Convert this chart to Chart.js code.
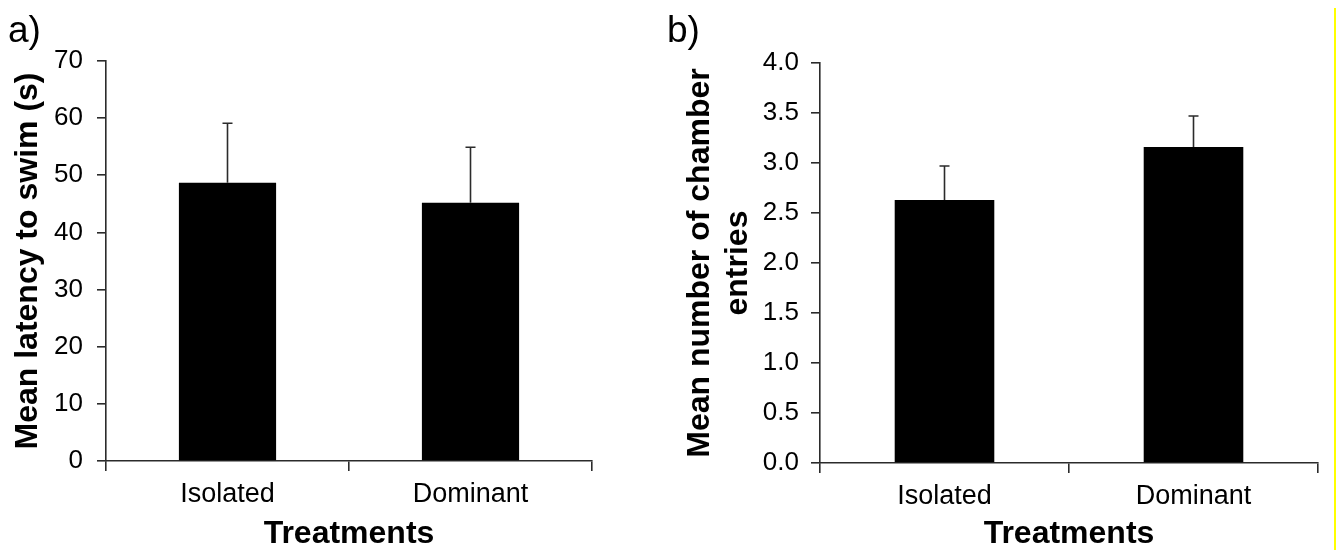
<!DOCTYPE html>
<html>
<head>
<meta charset="utf-8">
<script src="https://cdn.jsdelivr.net/npm/chart.js@4.4.0/dist/chart.umd.min.js"></script>
<style>
  body { margin: 0; background: #fff; width: 1339px; height: 550px; overflow: hidden; position: relative; font-family: "Liberation Sans", Arial, sans-serif; }
  .wrap { position: absolute; top: 0; height: 550px; }
  .panel-label { position: absolute; font-size: 37px; line-height: 1; color: #000; }
  #edge { position: absolute; left: 1334px; top: 8px; width: 2px; height: 542px; background: #ffff00; }
</style>
</head>
<body>
<div class="wrap" style="left:0;width:660px"><canvas id="chartA" width="660" height="550"></canvas></div>
<div class="wrap" style="left:660px;width:679px"><canvas id="chartB" width="679" height="550"></canvas></div>
<div class="panel-label" style="left:8px;top:11px">a)</div>
<div class="panel-label" style="left:667px;top:11px">b)</div>
<div id="edge"></div>
<script>
// data
const treatments = ['Isolated', 'Dominant'];
const latencyMeans = [48.7, 45.2];
const latencyErr = [10.4, 9.7];
const entryMeans = [2.63, 3.16];
const entryErr = [0.34, 0.31];

const FONT = '"Liberation Sans", Arial, sans-serif';
const axisColor = '#2b2b2b';

// upper error bars only, with a small cap
const errorBars = {
    id: 'errorBars',
    afterDatasetsDraw(chart, args, opts) {
        const ctx = chart.ctx;
        const meta = chart.getDatasetMeta(0);
        const yScale = chart.scales.y;
        const values = chart.data.datasets[0].data;
        ctx.save();
        ctx.strokeStyle = axisColor;
        ctx.lineWidth = 1.6;
        meta.data.forEach((bar, i) => {
            const yTop = yScale.getPixelForValue(values[i] + opts.errors[i]);
            ctx.beginPath();
            ctx.moveTo(bar.x, bar.y);
            ctx.lineTo(bar.x, yTop);
            ctx.moveTo(bar.x - 5, yTop);
            ctx.lineTo(bar.x + 5, yTop);
            ctx.stroke();
        });
        ctx.restore();
    }
};

function makeChart(id, means, errs, cfg) {
    return new Chart(id, {
        type: 'bar',
        data: {
            labels: treatments,
            datasets: [{
                data: means,
                backgroundColor: '#000',
                barPercentage: 0.4,
                categoryPercentage: 1
            }]
        },
        plugins: [errorBars],
        options: {
            responsive: false,
            animation: false,
            events: [],
            layout: { padding: { top: cfg.top, right: cfg.right, left: 0, bottom: 0 } },
            plugins: {
                legend: { display: false },
                tooltip: { enabled: false },
                errorBars: { errors: errs }
            },
            scales: {
                x: {
                    offset: true,
                    grid: { offset: true, drawOnChartArea: false, tickLength: 10, color: axisColor, lineWidth: 1.6 },
                    border: { display: true, color: axisColor, width: 1.6 },
                    ticks: { color: '#000', font: { family: FONT, size: 27 }, padding: 7, maxRotation: 0 },
                    title: {
                        display: true,
                        text: 'Treatments',
                        color: '#000',
                        font: { family: FONT, size: 32, weight: 'bold', lineHeight: 1 },
                        padding: 0
                    },
                    afterFit: s => { s.height = cfg.xHeight; }
                },
                y: {
                    min: 0,
                    max: cfg.max,
                    grid: { drawOnChartArea: false, tickLength: 9, color: axisColor, lineWidth: 1.6 },
                    border: { display: true, color: axisColor, width: 1.6 },
                    ticks: {
                        stepSize: cfg.step,
                        color: '#000',
                        font: { family: FONT, size: 26 },
                        padding: cfg.tickPad,
                        callback: v => cfg.step < 1 ? v.toFixed(1) : v
                    },
                    title: {
                        display: true,
                        text: cfg.yTitle,
                        color: '#000',
                        font: { family: FONT, size: 32, weight: 'bold', lineHeight: 1.2 },
                        padding: { top: cfg.titlePad, bottom: 0 }
                    },
                    afterFit: s => { s.width = cfg.yWidth; }
                }
            }
        }
    });
}

makeChart('chartA', latencyMeans, latencyErr, {
    max: 70, step: 10, top: 61, right: 68, xHeight: 89, yWidth: 106,
    tickPad: 14, titlePad: 8.8, yTitle: 'Mean latency to swim (s)'
});

makeChart('chartB', entryMeans, entryErr, {
    max: 4, step: 0.5, top: 63, right: 21, xHeight: 87, yWidth: 160,
    tickPad: 12, titlePad: 20.8, yTitle: ['Mean number of chamber', 'entries']
});
</script>
</body>
</html>
